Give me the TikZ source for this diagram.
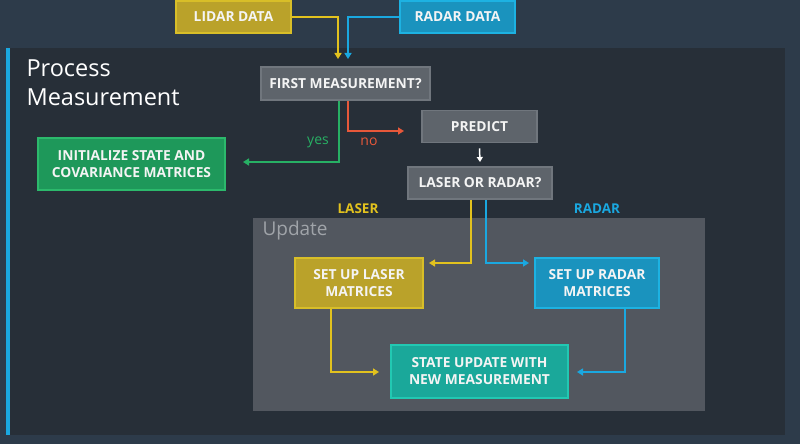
\documentclass[tikz,border=0pt]{standalone}
\usepackage{fontspec}
\setmainfont{Open Sans}
\usetikzlibrary{arrows.meta}
\definecolor{outerbg}{HTML}{2D3B4A}
\definecolor{panelbg}{HTML}{272F38}
\definecolor{updbg}{HTML}{52575F}
\definecolor{greyfill}{HTML}{5E646B}
\definecolor{greyline}{HTML}{70767D}
\definecolor{ylwfill}{HTML}{BAA22A}
\definecolor{ylwline}{HTML}{D8BE28}
\definecolor{ylw}{HTML}{E2C21E}
\definecolor{bluefill}{HTML}{1A93BE}
\definecolor{blueline}{HTML}{1DB2E2}
\definecolor{blu}{HTML}{1AA8E0}
\definecolor{grnfill}{HTML}{1E985A}
\definecolor{grnline}{HTML}{2CB96C}
\definecolor{grn}{HTML}{27B064}
\definecolor{redc}{HTML}{E8583A}
\definecolor{tealfill}{HTML}{1AA89A}
\definecolor{tealline}{HTML}{22C8B2}
\definecolor{updtext}{HTML}{A0A4A9}
\definecolor{boxtext}{HTML}{F4F4F4}
\tikzset{
  box/.style={draw, line width=1.6pt, rectangle, inner sep=0pt, text=boxtext, align=center,
    font=\fontsize{13.8}{17}\selectfont\bfseries},
  greybox/.style={box, fill=greyfill, draw=greyline},
  ylwbox/.style={box, fill=ylwfill, draw=ylwline},
  bluebox/.style={box, fill=bluefill, draw=blueline},
  grnbox/.style={box, fill=grnfill, draw=grnline},
  tealbox/.style={box, fill=tealfill, draw=tealline},
  conn/.style={line width=1.9pt, -{Triangle[length=6pt,width=7pt]}},
  lbl/.style={font=\fontsize{14}{16}\selectfont}
}
\begin{document}
\begin{tikzpicture}[x=1pt,y=-1pt]
\useasboundingbox (0,0) rectangle (800,444);
\fill[outerbg] (0,0) rectangle (800,444);
\fill[panelbg] (7,48) rectangle (785,435);
\fill[blu] (6,48) rectangle (10,435);
\fill[updbg] (253,218) rectangle (705,411);

\node[anchor=west, text=white, font=\fontsize{23.5}{28}\selectfont] (t1) at (23,68) {Process};
\node[anchor=west, text=white, font=\fontsize{23.5}{28}\selectfont] (t2) at (23,97) {Measurement};
\node[anchor=west, text=updtext, font=\fontsize{19}{22}\selectfont] (tu) at (259,231) {Update};

\node[ylwbox, minimum width=115pt, minimum height=32pt] (lidar) at (233.5,17) {LIDAR DATA};
\node[bluebox, minimum width=115pt, minimum height=32pt] (radar) at (457.5,17) {RADAR DATA};
\node[greybox, minimum width=169pt, minimum height=33pt] (first) at (345.5,83.5) {FIRST MEASUREMENT?};
\node[grnbox, minimum width=187pt, minimum height=52pt] (init) at (131.5,164) {INITIALIZE STATE AND\\COVARIANCE MATRICES};
\node[greybox, minimum width=115pt, minimum height=32pt] (predict) at (479.5,126.5) {PREDICT};
\node[greybox, minimum width=144pt, minimum height=32pt] (lor) at (480,183) {LASER OR RADAR?};
\node[ylwbox, minimum width=128pt, minimum height=50pt] (slaser) at (359,283) {SET UP LASER\\MATRICES};
\node[bluebox, minimum width=124pt, minimum height=50pt] (sradar) at (597,283) {SET UP RADAR\\MATRICES};
\node[tealbox, minimum width=177pt, minimum height=53pt] (supd) at (479.5,371.5) {STATE UPDATE WITH\\NEW MEASUREMENT};

\coordinate (lidend) at (338,59);
\coordinate (radend) at (348,59);
\coordinate (yesend) at (243,162);
\coordinate (noend) at (404,131);
\coordinate (prend) at (480,162);
\coordinate (lasend) at (429,263);
\coordinate (radend2) at (529,263);
\coordinate (lsend) at (379,372);
\coordinate (rsend) at (577,372);

\draw[conn, ylw] (lidar.east) -| (lidend);
\draw[conn, blu] (radar.west) -| (radend);
\draw[conn, grn] (first.south -| 339,0) |- (yesend);
\draw[conn, redc] (first.south -| 348,0) |- (noend);
\draw[line width=1.5pt, white, -{Triangle[length=5pt,width=6pt]}] ([yshift=-5pt]predict.south) -- (prend);
\draw[conn, ylw] (lor.south -| 471,0) |- (lasend);
\draw[conn, blu] (lor.south -| 486,0) |- (radend2);
\draw[conn, ylw] (slaser.south -| 331,0) |- (lsend);
\draw[conn, blu] (sradar.south -| 625,0) |- (rsend);

\node[lbl, text=grn] (yes) at (318,142) {yes};
\node[lbl, text=redc] (no) at (369,142) {no};
\node[lbl, text=ylw, font=\fontsize{13.5}{16}\selectfont\bfseries] (llaser) at (358,209) {LASER};
\node[lbl, text=blu, font=\fontsize{13.5}{16}\selectfont\bfseries] (lradar) at (597,209) {RADAR};
\end{tikzpicture}
\end{document}
